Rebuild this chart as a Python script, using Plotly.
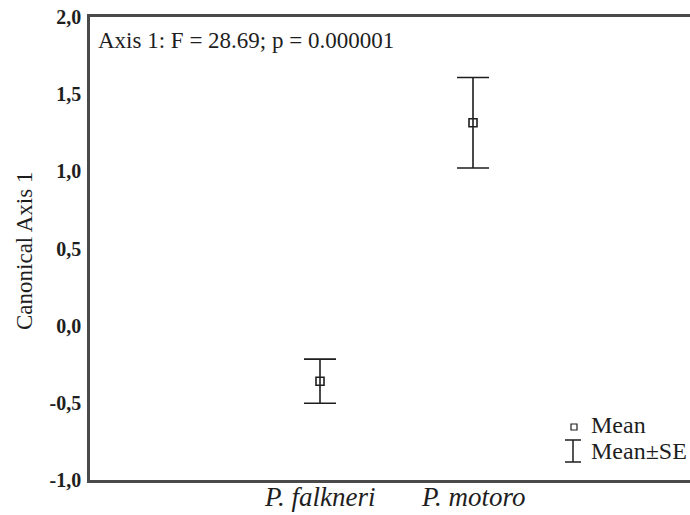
import plotly.graph_objects as go

# Canonical scores per species: group means and standard errors
species = ["P. falkneri", "P. motoro"]
mean_scores = [-0.36, 1.315]
se_scores = [0.143, 0.293]
y_ticks = [-1.0, -0.5, 0.0, 0.5, 1.0, 1.5, 2.0]
y_tick_labels = ["-1,0", "-0,5", "0,0", "0,5", "1,0", "1,5", "2,0"]

W, H = 690, 515
ML, MR, MT, MB = 90, 0, 17, 35
serif = "Times New Roman, Liberation Serif, Tinos, DejaVu Serif, serif"
ink = "#1e1e1e"
frame = "#4a4a4a"

positions = list(range(len(species)))

fig = go.Figure()
fig.add_trace(go.Scatter(
    x=positions,
    y=mean_scores,
    mode="markers",
    marker=dict(symbol="square-open", size=8, color=ink, line=dict(width=1.6, color=ink)),
    error_y=dict(type="data", array=se_scores, visible=True,
                 color=ink, thickness=1.6, width=16),
    showlegend=False,
    hoverinfo="skip",
))


def px_x(p):
    return (p - ML) / (W - ML - MR)


def px_y(p):
    return 1 - (p - MT) / (H - MT - MB)


# hand-built legend: open square for the mean, I-beam for mean±SE
shapes = [
    dict(type="rect", xref="paper", yref="paper",
         x0=px_x(571), x1=px_x(577), y0=px_y(424), y1=px_y(430),
         line=dict(color=ink, width=1.2), fillcolor="white"),
    dict(type="line", xref="paper", yref="paper",
         x0=px_x(573), x1=px_x(573), y0=px_y(440), y1=px_y(462),
         line=dict(color=ink, width=1.5)),
    dict(type="line", xref="paper", yref="paper",
         x0=px_x(565), x1=px_x(581), y0=px_y(440), y1=px_y(440),
         line=dict(color=ink, width=1.5)),
    dict(type="line", xref="paper", yref="paper",
         x0=px_x(565), x1=px_x(581), y0=px_y(462), y1=px_y(462),
         line=dict(color=ink, width=1.5)),
]

annotations = [
    dict(text="Axis 1: F = 28.69; p = 0.000001", xref="paper", yref="paper",
         x=px_x(96), y=px_y(41), xanchor="left", yanchor="middle",
         showarrow=False, font=dict(family=serif, size=23, color=ink)),
    dict(text="Mean", xref="paper", yref="paper",
         x=px_x(589), y=px_y(425), xanchor="left", yanchor="middle",
         showarrow=False, font=dict(family=serif, size=24, color=ink)),
    dict(text="Mean±SE", xref="paper", yref="paper",
         x=px_x(589), y=px_y(451), xanchor="left", yanchor="middle",
         showarrow=False, font=dict(family=serif, size=24, color=ink)),
    dict(text="Canonical Axis 1", xref="paper", yref="paper",
         x=px_x(24), y=px_y(251), xanchor="center", yanchor="middle",
         textangle=-90, showarrow=False, font=dict(family=serif, size=23, color=ink)),
]

# species names under the axis, centred on each group
for pos, name in zip(positions, species):
    annotations.append(dict(
        text=f"<i>{name}</i>", xref="x", yref="paper",
        x=pos, y=px_y(497), xanchor="center", yanchor="middle",
        showarrow=False, font=dict(family=serif, size=27, color=ink)))

# data-unit span per pixel along x: categories sit 153 px apart
px_per_unit = 153.0
x_left = 0 - (320 - ML) / px_per_unit
x_right = 0 + (W - MR - 320) / px_per_unit

fig.update_layout(
    width=W, height=H,
    margin=dict(l=ML, r=MR, t=MT, b=MB, autoexpand=False),
    paper_bgcolor="white", plot_bgcolor="white",
    font=dict(family=serif, color=ink),
    shapes=shapes,
    annotations=annotations,
    xaxis=dict(
        range=[x_left, x_right],
        tickvals=positions,
        showticklabels=False,
        showgrid=False, zeroline=False, automargin=False,
        showline=True, mirror=True, linecolor=frame, linewidth=2.5,
        ticks="",
    ),
    yaxis=dict(
        range=[-1.0, 2.0],
        tickvals=y_ticks,
        ticktext=y_tick_labels,
        tickfont=dict(family=serif, size=20, color=ink, weight="bold"),
        showgrid=False, zeroline=False, automargin=False,
        showline=True, mirror=False, linecolor=frame, linewidth=2.5,
        ticks="outside", ticklen=2, tickcolor="rgba(0,0,0,0)",
    ),
)

fig.write_html("out.html")
